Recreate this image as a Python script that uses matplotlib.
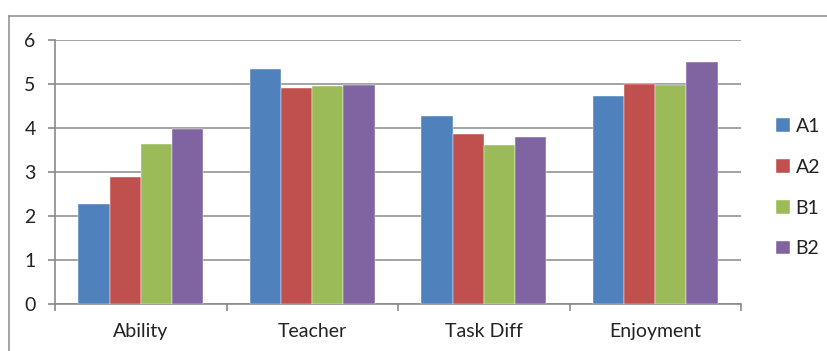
import matplotlib
matplotlib.use("Agg")
import matplotlib.pyplot as plt
import numpy as np
from matplotlib.lines import Line2D

categories = ["Ability", "Teacher", "Task Diff", "Enjoyment"]
series_names = ["A1", "A2", "B1", "B2"]
a1 = [2.27, 5.33, 4.27, 4.72]
a2 = [2.88, 4.91, 3.86, 5.00]
b1 = [3.64, 4.95, 3.61, 4.97]
b2 = [3.97, 4.97, 3.80, 5.49]
colors = ["#4F81BD", "#C0504D", "#9BBB59", "#8064A2"]

plt.rcParams["font.family"] = ["Lato", "DejaVu Sans"]

fig = plt.figure(figsize=(8.27, 3.51), dpi=100)
fig.patch.set_facecolor("white")
ax = fig.add_axes([55 / 827, 1 - 303.7 / 351, (741 - 55) / 827, (303.7 - 40) / 351])

# outer chart border (open towards right/bottom edges)
fig.add_artist(Line2D([8.5 / 827, 1.0], [1 - 15.5 / 351] * 2, color="#8c8c8c", lw=1.1,
                      transform=fig.transFigure))
fig.add_artist(Line2D([8.5 / 827] * 2, [0.0, 1 - 15.5 / 351], color="#8c8c8c", lw=1.1,
                      transform=fig.transFigure))

x = np.arange(len(categories))
bw = 1 / (4 + 1.5)
for i, (vals, name) in enumerate(zip([a1, a2, b1, b2], series_names)):
    ax.bar(x + (i - 1.5) * bw, vals, width=bw, color=colors[i], label=name,
           edgecolor="white", linewidth=0.3, zorder=3)

ax.set_xlim(-0.5, len(categories) - 0.5)
ax.set_ylim(0, 6)
ax.set_yticks(range(7))
ax.yaxis.grid(True, color="#8a8a8a", linewidth=1.1, zorder=0)
ax.set_axisbelow(True)

for s in ["top", "right"]:
    ax.spines[s].set_visible(False)
for s in ["left", "bottom"]:
    ax.spines[s].set_color("#8a8a8a")
    ax.spines[s].set_linewidth(1.2)

ax.set_xticks(x)
ax.set_xticklabels(categories)
ax.set_xticks(np.arange(-0.5, len(categories)), minor=True)
ax.tick_params(axis="x", which="major", length=0, pad=14, labelsize=14, colors="#222222")
ax.tick_params(axis="x", which="minor", length=5, width=1.2, color="#8a8a8a", direction="out")
ax.tick_params(axis="y", length=5, width=1.2, color="#8a8a8a", pad=9, labelsize=14,
               labelcolor="#222222")

leg = ax.legend(loc="center left", bbox_to_anchor=(1.04, 0.44), frameon=False,
                fontsize=14, handlelength=0.7, handleheight=0.7, handletextpad=0.3,
                labelspacing=1.22, borderaxespad=0)
for t in leg.get_texts():
    t.set_color("#222222")

fig.savefig("out.png", dpi=100, facecolor="white")
